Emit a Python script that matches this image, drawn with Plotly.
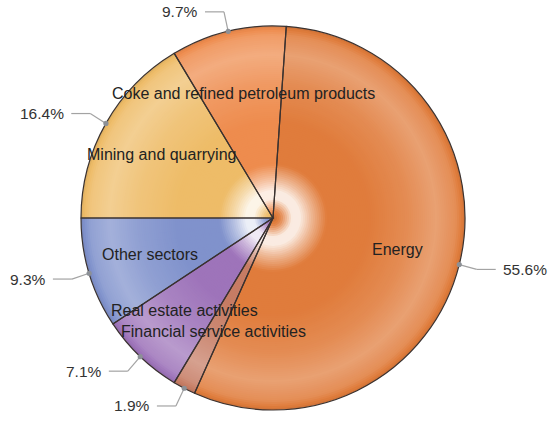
import math
import plotly.graph_objects as go

# ---------------- data ----------------
categories = ["Energy", "Financial service activities", "Real estate activities",
              "Other sectors", "Mining and quarrying", "Coke and refined petroleum products"]
shares = [55.6, 1.9, 7.1, 9.3, 16.4, 9.7]
slice_colors = [(224, 124, 60), (198, 124, 100), (158, 116, 186),
                (128, 146, 204), (238, 188, 104), (238, 140, 78)]
start_angle = 3.96  # degrees clockwise from 12 o'clock

# ---------------- geometry ----------------
W, H = 550, 421
CX, CY, R = 273, 218, 192

# radial gradient profile: (t, mix) ; mix>0 -> toward white, mix<0 -> toward black
profile_stops = [(0.00, -0.15), (0.04, 0.10), (0.10, 0.85), (0.14, 0.85), (0.20, 0.45),
                 (0.28, 0.0), (0.50, 0.0), (0.70, 0.12), (0.85, 0.28), (0.95, 0.14), (1.00, -0.08)]


def profile(t):
    for (t0, m0), (t1, m1) in zip(profile_stops[:-1], profile_stops[1:]):
        if t0 <= t <= t1:
            return m0 + (m1 - m0) * (t - t0) / (t1 - t0)
    return profile_stops[-1][1]


def shade(c, m):
    if m >= 0:
        return "rgb(%d,%d,%d)" % tuple(round(v + (255 - v) * m) for v in c)
    return "rgb(%d,%d,%d)" % tuple(round(v * (1 + m)) for v in c)


def px(x, y):
    return x / W, 1 - y / H


fig = go.Figure()

# gradient rings (outer first, smaller pies on top)
r = float(R)
while r > 1:
    t = max(r - 1, 0) / R
    fig.add_trace(go.Pie(
        labels=categories, values=shares, sort=False, direction="clockwise",
        rotation=start_angle,
        marker=dict(colors=[shade(c, profile(t)) for c in slice_colors], line=dict(width=0)),
        textinfo="none", hoverinfo="skip", showlegend=False,
        domain=dict(x=[(CX - r) / W, (CX + r) / W], y=[1 - (CY + r) / H, 1 - (CY - r) / H]),
    ))
    r -= 2

# borders
fig.add_trace(go.Pie(
    labels=categories, values=shares, sort=False, direction="clockwise",
    rotation=start_angle,
    marker=dict(colors=["rgba(0,0,0,0)"] * len(shares), line=dict(color="#3a3230", width=1.2)),
    textinfo="none", hoverinfo="skip", showlegend=False,
    domain=dict(x=[(CX - R) / W, (CX + R) / W], y=[1 - (CY + R) / H, 1 - (CY - R) / H]),
))

annotations = []
shapes = []
total = sum(shares)
cum = 0.0
for name, v in zip(categories, shares):
    theta = math.radians(start_angle + 360.0 * (cum + v / 2) / total)
    cum += v
    s, c = math.sin(theta), math.cos(theta)
    # inside category label
    lx, ly = CX + 0.667 * R * s, CY - 0.667 * R * c
    ax, ay = px(lx, ly)
    annotations.append(dict(x=ax, y=ay, xref="paper", yref="paper", text=name, showarrow=False,
                            xanchor="center", yanchor="middle",
                            font=dict(family="Liberation Sans, Arial", size=16, color="#222222")))
    # connector
    ex, ey = CX + R * s, CY - R * c
    bx, by = CX + (R + 18) * s, CY - (R + 20) * c
    side = 1 if s > 0 else -1
    hx = bx + side * 19
    for (x0, y0, x1, y1) in [(ex, ey, bx, by), (bx, by, hx, by)]:
        p0, p1 = px(x0, y0), px(x1, y1)
        shapes.append(dict(type="line", xref="paper", yref="paper", x0=p0[0], y0=p0[1], x1=p1[0], y1=p1[1],
                           line=dict(color="#a3a3a3", width=1.2), layer="above"))
    d = 2.6
    shapes.append(dict(type="circle", xref="paper", yref="paper",
                       x0=(ex - d) / W, x1=(ex + d) / W, y0=1 - (ey + d) / H, y1=1 - (ey - d) / H,
                       fillcolor="#8c9096", line=dict(width=0), layer="above"))
    tx, ty = px(hx + side * 5, by)
    annotations.append(dict(x=tx, y=ty, xref="paper", yref="paper", text=f"{v:.1f}%", showarrow=False,
                            xanchor="left" if side > 0 else "right", yanchor="middle",
                            font=dict(family="Liberation Sans, Arial", size=15.5, color="#333333")))

fig.update_layout(
    width=W, height=H, margin=dict(l=0, r=0, t=0, b=0),
    paper_bgcolor="white", plot_bgcolor="white",
    annotations=annotations, shapes=shapes, showlegend=False,
)

# remove the default 8px page margin so the 550x421 figure fills the window exactly
fig.write_html("out.html", config={"displayModeBar": False, "staticPlot": True},
               post_script="document.body.style.margin='0px';document.body.style.overflow='hidden';")
